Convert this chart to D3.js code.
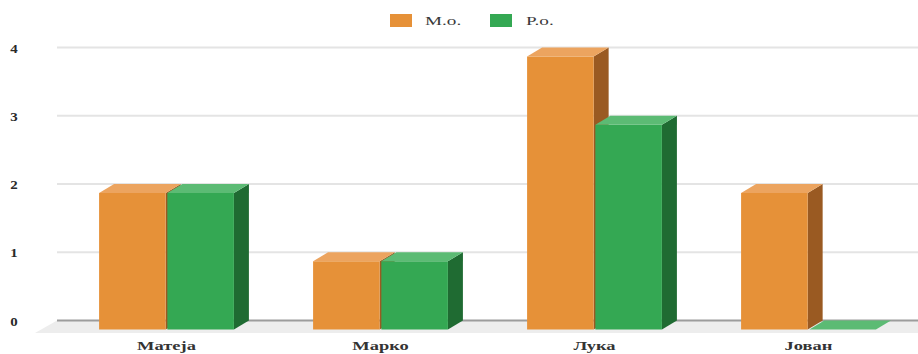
<!DOCTYPE html>
<html>
<head>
<meta charset="utf-8">
<script src="https://cdn.jsdelivr.net/npm/d3@7"></script>
<style>
  html, body { margin: 0; padding: 0; background: #fff; }
  svg { display: block; }
  text { font-family: "Liberation Serif", "DejaVu Serif", serif; fill: #2a2a2a; }
</style>
</head>
<body>
<svg id="chart" width="918" height="354"></svg>
<script>
// Data
const categories = ["Матеја", "Марко", "Лука", "Јован"];
const seriesNames = ["M.o.", "P.o."];
const moValues = [2, 1, 4, 2];
const poValues = [2, 1, 3, 0];
const yTicks = [0, 1, 2, 3, 4];

const W = 918, H = 354;
const svg = d3.select("#chart");

// 3D depth offset (back plane relative to front plane)
const depthX = 15, depthY = -9;
const stretch = 1.42; // horizontal text stretch

const palette = {
  "M.o.": { front: "#e69138", top: "#eca45f", side: "#9a5a22" },
  "P.o.": { front: "#34a853", top: "#5cbb74", side: "#1f6b32" }
};

// Back-plane value scale (gridlines)
const y = d3.scaleLinear().domain([0, 4]).range([320.5, 47.5]);
const frontY = v => y(v) - depthY;

const x0 = d3.scaleBand().domain(categories).range([59.5, 915.5])
  .paddingInner(0.37).paddingOuter(0.185);
const x1 = d3.scaleBand().domain(seriesNames).range([0, x0.bandwidth()]).paddingInner(0.025);

// Floor
const gridLeft = 57;
const floorBottom = 333;
svg.append("polygon")
  .attr("points", [[gridLeft, y(0)], [W, y(0)], [W, floorBottom], [gridLeft - 22, floorBottom]].map(p => p.join(",")).join(" "))
  .attr("fill", "#ededed");

// Gridlines
svg.append("g").selectAll("line").data(yTicks).join("line")
  .attr("x1", gridLeft).attr("x2", W)
  .attr("y1", d => y(d)).attr("y2", d => y(d))
  .attr("stroke", d => d === 0 ? "#9c9c9c" : "#e4e4e4")
  .attr("stroke-width", 2);

// Y tick labels
svg.append("g").selectAll("text").data(yTicks).join("text")
  .attr("transform", d => `translate(14,${y(d) + 5}) scale(1.15,1)`)
  .attr("text-anchor", "middle")
  .attr("font-size", 13)
  .attr("font-weight", "bold")
  .text(d => d);

// Bars
const rows = [];
categories.forEach((c, i) => {
  rows.push({ cat: c, series: "M.o.", value: moValues[i] });
  rows.push({ cat: c, series: "P.o.", value: poValues[i] });
});

const pts = a => a.map(p => p.join(",")).join(" ");
const bars = svg.append("g");
rows.forEach(d => {
  const bx = x0(d.cat) + x1(d.series);
  const bw = x1.bandwidth();
  const yT = frontY(d.value), yB = frontY(0);
  const col = palette[d.series];
  const g = bars.append("g");
  if (d.value > 0) {
    g.append("polygon").attr("fill", col.side)
      .attr("points", pts([[bx + bw, yT], [bx + bw + depthX, yT + depthY], [bx + bw + depthX, yB + depthY], [bx + bw, yB]]));
    g.append("rect").attr("x", bx).attr("y", yT).attr("width", bw).attr("height", yB - yT).attr("fill", col.front);
  }
  g.append("polygon").attr("fill", col.top)
    .attr("points", pts([[bx, yT], [bx + depthX, yT + depthY], [bx + bw + depthX, yT + depthY], [bx + bw, yT]]));
});

// Category labels
svg.append("g").selectAll("text").data(categories).join("text")
  .attr("transform", d => `translate(${x0(d) + x0.bandwidth() / 2},350) scale(${stretch},1)`)
  .attr("text-anchor", "middle")
  .attr("font-size", 13)
  .attr("font-weight", "bold")
  .style("fill", "#333")
  .text(d => d);

// Legend
const legendItems = [
  { name: "M.o.", rx: 390, tx: 425 },
  { name: "P.o.", rx: 490, tx: 526 }
];
const lg = svg.append("g");
legendItems.forEach(it => {
  lg.append("rect").attr("x", it.rx).attr("y", 14).attr("width", 22).attr("height", 13)
    .attr("fill", palette[it.name].front);
  lg.append("text")
    .attr("transform", `translate(${it.tx},25) scale(${stretch},1)`)
    .attr("font-size", 13.5)
    .style("fill", "#3a3a3a")
    .text(it.name);
});
</script>
</body>
</html>
